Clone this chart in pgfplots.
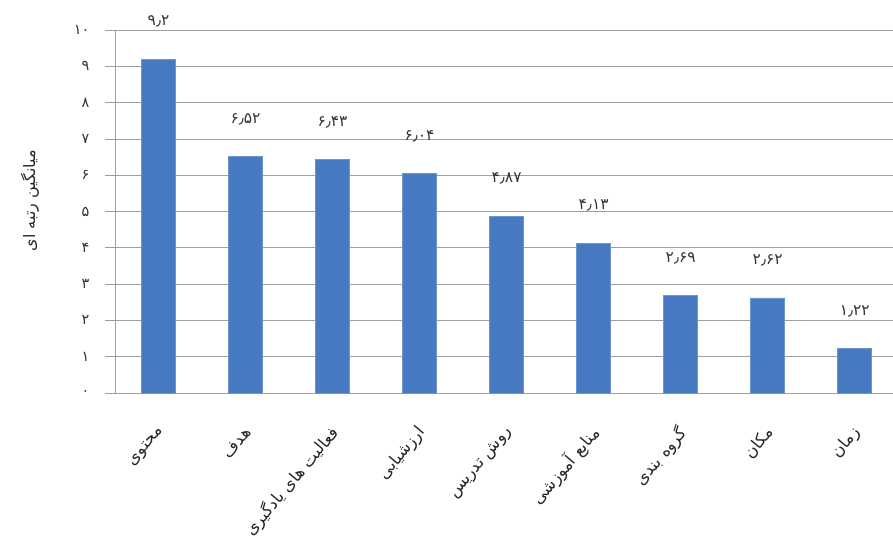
\documentclass[border=0pt]{standalone}
\usepackage{fontspec}
\usepackage{pgfplots}
\pgfplotsset{compat=1.18}
\TeXXeTstate=1
\newfontfamily\arabicfont[Script=Arabic]{DejaVu Sans}
\definecolor{barblue}{RGB}{72,122,196}
\definecolor{gridgray}{RGB}{160,160,160}
\begin{document}
\begin{tikzpicture}
\useasboundingbox (0,0) rectangle (893bp,547bp);
\begin{axis}[
  at={(115bp,154bp)}, anchor=south west,
  scale only axis, width=778bp, height=363bp,
  ymin=0, ymax=10, xmin=-0.5, xmax=8.44,
  ybar, bar width=34bp,
  axis x line*=bottom, axis y line*=left,
  axis line style={-, gridgray, line width=0.7bp},
  ytick={0,...,10},
  yticklabels={۰,۱,۲,۳,۴,۵,۶,۷,۸,۹,۱۰},
  yticklabel style={font=\arabicfont\fontsize{14.5}{16}\selectfont, xshift=-12bp, text=black!80},
  xtick={0,...,8},
  xticklabels={
    {\beginR محتوی\endR},
    {\beginR هدف\endR},
    {\beginR فعالیت های یادگیری\endR},
    {\beginR ارزشیابی\endR},
    {\beginR روش تدریس\endR},
    {\beginR منابع آموزشی\endR},
    {\beginR گروه بندی\endR},
    {\beginR مکان\endR},
    {\beginR زمان\endR}},
  xticklabel style={font=\arabicfont\fontsize{16.5}{18}\selectfont, yshift=-24bp, xshift=5bp, rotate=50, anchor=east, text=black!85},
  tick align=outside,
  xtick style={draw=none},
  ytick style={gridgray, line width=0.7bp},
  major tick length=10bp,
  minor xtick={-0.5,0.5,...,7.5},
  minor x tick style={gridgray, line width=0.7bp},
  minor tick length=5bp,
  ymajorgrids,
  grid style={gridgray, line width=0.7bp},
  ylabel={\beginR میانگین رتبه ای\endR},
  every axis y label/.style={at={(rel axis cs:0,0.53)}, xshift=-85bp, rotate=90, anchor=center, font=\arabicfont\fontsize{16}{18}\selectfont, text=black!85},
  point meta=explicit symbolic,
  nodes near coords,
  every node near coord/.append style={font=\arabicfont\fontsize{15.5}{17}\selectfont, yshift=28bp, text=black!80},
  clip=false,
]
\addplot[fill=barblue, draw=barblue!80!white, line width=0.5bp] coordinates {
  (0,9.2) [۹٫۲]
  (1,6.52) [۶٫۵۲]
  (2,6.43) [۶٫۴۳]
  (3,6.04) [۶٫۰۴]
  (4,4.87) [۴٫۸۷]
  (5,4.13) [۴٫۱۳]
  (6,2.69) [۲٫۶۹]
  (7,2.62) [۲٫۶۲]
  (8,1.22) [۱٫۲۲]
};
\end{axis}
\end{tikzpicture}
\end{document}
